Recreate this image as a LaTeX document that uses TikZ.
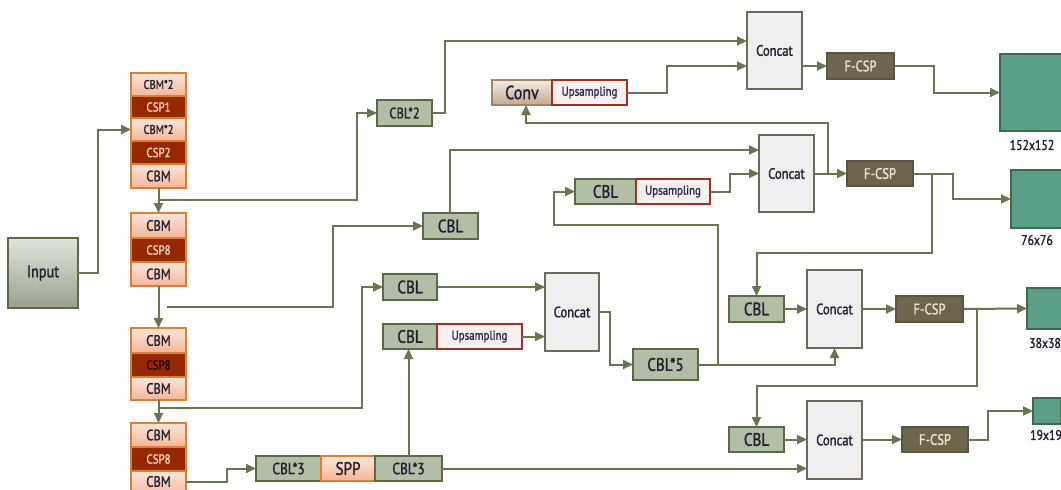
\documentclass[tikz,border=0pt]{standalone}
\usepackage{fontspec}
\setmainfont{PT Sans}[FakeStretch=0.84,FakeBold=1.4]
\usetikzlibrary{arrows.meta,calc}
\definecolor{wire}{HTML}{667650}
\definecolor{cblfill}{HTML}{B3BEA7}
\definecolor{cbldraw}{HTML}{5A6A44}
\definecolor{catfill}{HTML}{F0EFF0}
\definecolor{catdraw}{HTML}{6E6858}
\definecolor{fcspfill}{HTML}{6E664C}
\definecolor{fcspdraw}{HTML}{5A5440}
\definecolor{fcsptext}{HTML}{ECE6D6}
\definecolor{outfill}{HTML}{5AA088}
\definecolor{outdraw}{HTML}{3E6A4C}
\definecolor{orgdraw}{HTML}{DD7F35}
\definecolor{cbmtop}{HTML}{FCE6DA}
\definecolor{cbmbot}{HTML}{F5B597}
\definecolor{cspfill}{HTML}{962800}
\definecolor{csptext}{HTML}{F3D3C4}
\definecolor{upsdraw}{HTML}{A03020}
\definecolor{upsfill}{HTML}{FAF0F0}
\definecolor{upstext}{HTML}{2A2A50}
\definecolor{txt}{HTML}{1F2030}
\definecolor{convtop}{HTML}{F4ECE4}
\definecolor{convbot}{HTML}{C4A88E}
\definecolor{convdraw}{HTML}{A08468}
\begin{document}
\begin{tikzpicture}[x=1pt,y=-1pt,
  every node/.style={inner sep=0pt,outer sep=0pt,text=txt},
  cbm/.style={draw=orgdraw,line width=1.6pt,top color=cbmtop,bottom color=cbmbot,minimum width=55pt,font=\fontsize{15}{15}\selectfont},
  csp/.style={draw=orgdraw,line width=1.6pt,fill=cspfill,minimum width=55pt,text=csptext,font=\fontsize{13}{13}\selectfont},
  cbl/.style={draw=cbldraw,line width=2.2pt,fill=cblfill,font=\fontsize{18}{18}\selectfont},
  cat/.style={draw=catdraw,line width=2pt,fill=catfill,minimum width=55pt,minimum height=77pt,font=\fontsize{15}{15}\selectfont},
  fcsp/.style={draw=fcspdraw,line width=1.6pt,fill=fcspfill,text=fcsptext,font=\fontsize{15}{15}\selectfont},
  ups/.style={draw=upsdraw,line width=1.8pt,fill=upsfill,text=upstext,font=\fontsize{13}{13}\selectfont},
  outbox/.style={draw=outdraw,line width=1.6pt,fill=outfill},
  lbl/.style={font=\fontsize{14}{14}\selectfont},
  wired/.style={draw=wire,line width=2pt},
  arr/.style={wired,-{Triangle[length=10pt,width=9pt]}}
]
\useasboundingbox (0,0) rectangle (1061,490);
\clip (0,0) rectangle (1061,490);
\fill[white] (0,0) rectangle (1061,490);

% Input
\node[draw=cbldraw,line width=2pt,top color=white!60!cblfill,bottom color=cblfill!85!black,minimum width=70pt,minimum height=70pt,font=\fontsize{17}{17}\selectfont] (Input) at (43,273) {Input};

% Backbone column
\node[cbm,minimum height=23pt,font=\fontsize{12.5}{12.5}\selectfont] (b1a) at (158.5,84.5) {CBM*2};
\node[csp,minimum height=22pt] (b1b) at (158.5,107) {CSP1};
\node[cbm,minimum height=23pt,font=\fontsize{12.5}{12.5}\selectfont] (b1c) at (158.5,129.5) {CBM*2};
\node[csp,minimum height=23pt] (b1d) at (158.5,152.5) {CSP2};
\node[cbm,minimum height=24pt] (b1e) at (158.5,176) {CBM};

\node[cbm,minimum height=25pt] (b2a) at (158.5,225.5) {CBM};
\node[csp,minimum height=24pt] (b2b) at (158.5,250) {CSP8};
\node[cbm,minimum height=24pt] (b2c) at (158.5,274) {CBM};

\node[cbm,minimum height=25pt] (b3a) at (158.5,340.5) {CBM};
\node[csp,minimum height=24pt,text=black!80!cspfill] (b3b) at (158.5,365) {CSP8};
\node[cbm,minimum height=23pt] (b3c) at (158.5,388.5) {CBM};

\node[cbm,minimum height=24pt] (b4a) at (158.5,435) {CBM};
\node[csp,minimum height=24pt] (b4b) at (158.5,459) {CSP8};
\draw[draw=orgdraw,line width=1.6pt,top color=cbmtop,bottom color=cbmbot] (131,471) rectangle (186,497);
\node[minimum width=55pt,minimum height=17pt,font=\fontsize{15}{15}\selectfont] (b4c) at (158.5,481.5) {CBM};

% Neck / head nodes
\node[cbl,minimum width=55pt,minimum height=26pt,font=\fontsize{15}{15}\selectfont] (CBL2) at (404.5,113) {CBL*2};
\node[draw=convdraw,line width=1.6pt,top color=convtop,bottom color=convbot,minimum width=60pt,minimum height=25pt,font=\fontsize{19}{19}\selectfont] (Conv) at (522,92.5) {Conv};
\node[ups,minimum width=75pt,minimum height=25pt] (Ups1) at (589.5,92.5) {Upsampling};
\node[cat] (Concat1) at (774.5,50.5) {Concat};
\node[fcsp,minimum width=67pt,minimum height=26pt] (FCSP1) at (860.5,66) {F-CSP};
\node[outbox,minimum width=77pt,minimum height=77pt] (Out152) at (1038.5,92.5) {};
\node[lbl] (L152) at (1032,145) {152x152};

\node[cbl,minimum width=55pt,minimum height=26pt] (CBLm) at (450.5,226) {CBL};
\node[cbl,minimum width=61pt,minimum height=25pt] (CBLu) at (605.5,191.5) {CBL};
\node[ups,minimum width=74pt,minimum height=25pt] (Ups2) at (673,191.5) {Upsampling};
\node[cat] (Concat2) at (786.5,173.5) {Concat};
\node[fcsp,minimum width=66pt,minimum height=25pt] (FCSP2) at (880,173.5) {F-CSP};
\node[outbox,minimum width=58pt,minimum height=58pt] (Out76) at (1040,199) {};
\node[lbl] (L76) at (1037,240) {76x76};

\node[cbl,minimum width=54pt,minimum height=26pt] (CBLa) at (410,287) {CBL};
\node[cbl,minimum width=54pt,minimum height=25pt] (CBLb) at (410,336.5) {CBL};
\node[ups,minimum width=85pt,minimum height=25pt] (Ups3) at (479.5,336.5) {Upsampling};
\node[cat,minimum width=54pt,minimum height=78pt] (Concat0) at (572,312) {Concat};
\node[cbl,minimum width=65pt,minimum height=31pt] (CBL5) at (665.5,364.5) {CBL*5};

\node[cbl,minimum width=65pt,minimum height=25pt,font=\fontsize{16}{16}\selectfont] (CBL3a) at (288.5,468.5) {CBL*3};
\node[draw=orgdraw,line width=1.6pt,top color=cbmtop,bottom color=cbmbot,minimum width=54pt,minimum height=25pt,font=\fontsize{18}{18}\selectfont] (SPP) at (348,468.5) {SPP};
\node[cbl,minimum width=67pt,minimum height=25pt,font=\fontsize{16}{16}\selectfont] (CBL3b) at (408.5,468.5) {CBL*3};

\node[cbl,minimum width=55pt,minimum height=26pt] (CBL3) at (756.5,309) {CBL};
\node[cat,minimum height=78pt] (Concat3) at (834.5,309) {Concat};
\node[fcsp,minimum width=67pt,minimum height=26pt] (FCSP3) at (929.5,309) {F-CSP};
\node[outbox,minimum width=42pt,minimum height=41pt] (Out38) at (1048,308.5) {};
\node[lbl] (L38) at (1045,343) {38x38};

\node[cbl,minimum width=55pt,minimum height=25pt] (CBL4) at (756.5,439.5) {CBL};
\node[cat,minimum height=78pt] (Concat4) at (834.5,440) {Concat};
\node[fcsp,minimum width=66pt,minimum height=25pt] (FCSP4) at (935,439.5) {F-CSP};
\node[outbox,minimum width=28pt,minimum height=26pt] (Out19) at (1047,411) {};
\node[lbl] (L19) at (1046,435) {19x19};

% junction coordinates
\coordinate (j1) at (158.5,200);
\coordinate (j2) at (828,173.5);
\coordinate (j3) at (167,307);
\coordinate (j4) at (932,173.5);
\coordinate (j5) at (718,364.5);
\coordinate (j6) at (158.5,408);
\coordinate (j7) at (977,309);

% connectors
\draw[arr] (Input.east) -- ++(20,0) |- (b1c.west);
\draw[arr] (b1e.south) -- (b2a.north);
\draw[arr] (b2c.south) -- (b3a.north);
\draw[arr] (b3c.south) -- (b4a.north);
\draw[arr] (j1) -- ++(198.5,0) |- (CBL2.west);
\draw[arr] (CBL2.east) -- ++(13,0) |- ([yshift=9.5pt]Concat1.west);
\draw[arr] (Ups1.east) -- ++(40,0) |- ([yshift=-15.5pt]Concat1.west);
\draw[arr] (j2) -- ++(0,-50.5) -| ([xshift=4pt]Conv.south);
\draw[arr] (FCSP1.west -| Concat1.east) -- (FCSP1.west);
\draw[arr] (FCSP1.east) -- ++(40,0) |- (Out152.west);
\draw[arr] ([xshift=-0.5pt]CBLm.north) |- ([yshift=23.5pt]Concat2.west);
\draw[arr] (j3) -- ++(166,0) |- (CBLm.west);
\draw[arr] (Ups2.east) -- ++(20,0) |- (Concat2.west);
\draw[arr] (Concat2.east) -- (FCSP2.west);
\draw[arr] (FCSP2.east) -- ++(40,0) |- (Out76.west);
\draw[arr] (j4) -- ++(0,79.5) -| (CBL3.north);
\draw[arr] (j5) -- ++(0,-139.5) -- ++(-164,0) |- (CBLu.west);
\draw[arr] (CBL5.east) -| (Concat3.south);
\draw[arr] (Concat0.east) -- ++(11,0) |- (CBL5.west);
\draw[arr] (CBLa.east) -- (CBLa.east -| Concat0.west);
\draw[arr] (Ups3.east) -- (Ups3.east -| Concat0.west);
\draw[arr] (j6) -- ++(203.5,0) |- (CBLa.west);
\draw[arr] (CBL3b.north) -- (CBL3b.north |- CBLb.south);
\draw[arr] (b4c.east |- 0,482) -- ++(41,0) |- (CBL3a.west);
\draw[arr] (CBL3b.east) -- (CBL3b.east -| Concat4.west);
\draw[arr] (CBL3.east) -- (Concat3.west);
\draw[arr] (Concat3.east) -- (FCSP3.west);
\draw[arr] (FCSP3.east) -- (Out38.west);
\draw[arr] (j7) -- ++(0,77) -| (CBL4.north);
\draw[arr] (CBL4.east) -- (CBL4.east -| Concat4.west);
\draw[arr] (Concat4.east |- FCSP4.west) -- (FCSP4.west);
\draw[arr] (FCSP4.east) -- ++(20,0) |- (Out19.west);
\end{tikzpicture}
\end{document}
